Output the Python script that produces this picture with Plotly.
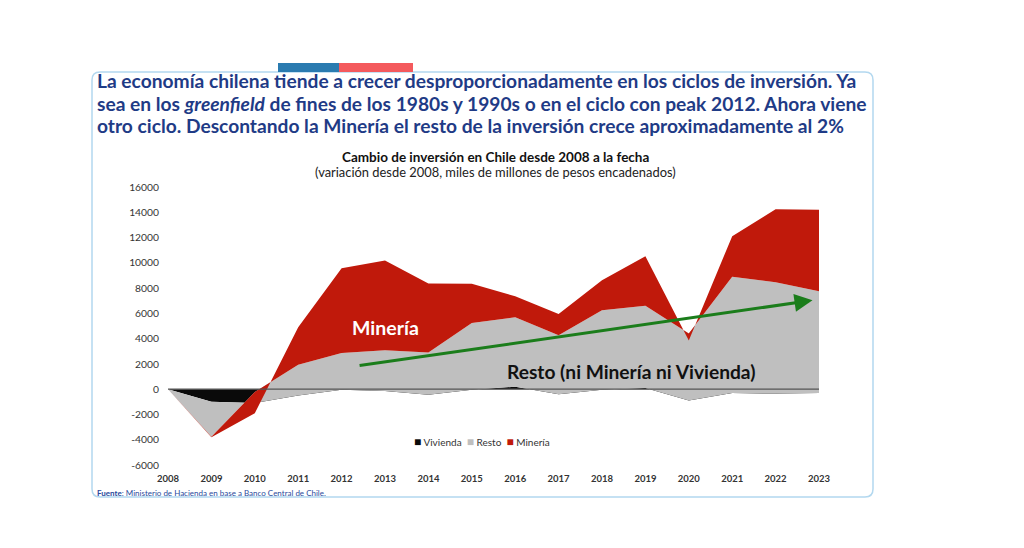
import plotly.graph_objects as go

# ---------------- data ----------------
years = list(range(2008, 2024))
vivienda = [0, -1000, -1100, -500, -50, -150, -450, -50, 200, -400, -50, 100, -900, -300, -350, -300]
resto = [0, -2760, 870, 2430, 2910, 3240, 3350, 5290, 5490, 4660, 6290, 6510, 5300, 9190, 8810, 8050]
mineria = [0, -40, -1670, 2970, 6710, 7090, 5460, 3110, 1660, 1690, 2380, 3910, -540, 3220, 5770, 6450]
series_names = ["Vivienda", "Resto", "Minería"]
y_ticks = [-6000, -4000, -2000, 0, 2000, 4000, 6000, 8000, 10000, 12000, 14000, 16000]
trend_start = (2012.38, 1850)
trend_end = (2022.85, 7030)

colors = {"Vivienda": "#0a0a0a", "Resto": "#bfbfbf", "Minería": "#c0190b"}

W, H = 1024, 548
L, R, T, B = 168, 819, 187, 465  # plot area in pixels


def px(xp):
    return (xp - L) / (R - L)


def py(yp):
    return (B - yp) / (B - T)


fig = go.Figure()
for name, vals in zip(series_names, [vivienda, resto, mineria]):
    fig.add_trace(go.Scatter(
        x=years, y=vals, name=name, mode="lines", stackgroup="one",
        line=dict(width=0, color=colors[name]), fillcolor=colors[name],
        showlegend=False, hoverinfo="x+y+name"))

annotations = []
# heading box text
title_lines = [
    "La economía chilena tiende a crecer desproporcionadamente en los ciclos de inversión. Ya",
    "sea en los <i>greenfield</i> de fines de los 1980s y 1990s o en el ciclo con peak 2012. Ahora viene",
    "otro ciclo. Descontando la Minería el resto de la inversión crece aproximadamente al 2%",
]
for i, line in enumerate(title_lines):
    annotations.append(dict(
        text=line, xref="paper", yref="paper", x=px(95), y=py(81 + 22 * i),
        xanchor="left", yanchor="middle", showarrow=False, align="left",
        font=dict(family="Lato", size=19.2, color="#1f3b86", weight="bold")))
annotations.append(dict(
    text="<b>Cambio de inversión en Chile desde 2008 a la fecha</b>",
    xref="paper", yref="paper", x=px(495), y=py(157), xanchor="center", yanchor="middle",
    showarrow=False, font=dict(family="Lato", size=13.5, color="#111")))
annotations.append(dict(
    text="(variación desde 2008, miles de millones de pesos encadenados)",
    xref="paper", yref="paper", x=px(495), y=py(172), xanchor="center", yanchor="middle",
    showarrow=False, font=dict(family="Lato", size=12.9, color="#222")))
annotations.append(dict(
    text="<b>Fuente</b>: Ministerio de Hacienda en base a Banco Central de Chile.",
    xref="paper", yref="paper", x=px(95), y=py(493), xanchor="left", yanchor="middle",
    showarrow=False, font=dict(family="Lato", size=8, color="#2a4a9c")))
# legend (compact, Excel-like)
legend_text = "  ".join(
    f'<span style="color:{colors[n]};font-size:12px">■</span> {n}' for n in series_names)
annotations.append(dict(
    text=legend_text, xref="paper", yref="paper", x=px(482), y=py(441),
    xanchor="center", yanchor="middle", showarrow=False,
    font=dict(family="Lato", size=10, color="#333")))
# in-chart labels
annotations.append(dict(
    text="<b>Minería</b>", x=2013.0, y=4870, xref="x", yref="y", showarrow=False,
    font=dict(family="Lato", size=19.5, color="white")))
annotations.append(dict(
    text="<b>Resto (ni Minería ni Vivienda)</b>", x=2018.68, y=1400, xref="x", yref="y",
    showarrow=False, font=dict(family="Lato", size=19.2, color="#111")))
# trend arrow
annotations.append(dict(
    x=trend_end[0], y=trend_end[1], ax=trend_start[0], ay=trend_start[1],
    xref="x", yref="y", axref="x", ayref="y", text="", showarrow=True,
    arrowhead=2, arrowsize=1.2, arrowwidth=3, arrowcolor="#1b7d1b", standoff=0))

shapes = []
# zero axis line on top of areas
shapes.append(dict(type="line", xref="x", yref="y", x0=years[0], x1=years[-1], y0=0, y1=0,
                   line=dict(color="#555555", width=1.2), layer="above"))


# rounded box
def rounded_rect(x0, y0, x1, y1, r):
    X = lambda v: px(v)
    Y = lambda v: py(v)
    return (f"M {X(x0 + r)},{Y(y0)} L {X(x1 - r)},{Y(y0)} Q {X(x1)},{Y(y0)} {X(x1)},{Y(y0 + r)} "
            f"L {X(x1)},{Y(y1 - r)} Q {X(x1)},{Y(y1)} {X(x1 - r)},{Y(y1)} "
            f"L {X(x0 + r)},{Y(y1)} Q {X(x0)},{Y(y1)} {X(x0)},{Y(y1 - r)} "
            f"L {X(x0)},{Y(y0 + r)} Q {X(x0)},{Y(y0)} {X(x0 + r)},{Y(y0)} Z")


shapes.append(dict(type="path", xref="paper", yref="paper", path=rounded_rect(92, 72, 873, 497, 8),
                   line=dict(color="#b3d8ef", width=1.5), fillcolor="rgba(0,0,0,0)", layer="below"))
shapes.append(dict(type="rect", xref="paper", yref="paper", x0=px(278), x1=px(339), y0=py(72), y1=py(63),
                   line=dict(width=0), fillcolor="#2a7bb0"))
shapes.append(dict(type="rect", xref="paper", yref="paper", x0=px(339), x1=px(413), y0=py(72), y1=py(63),
                   line=dict(width=0), fillcolor="#f45a5d"))

fig.update_layout(
    width=W, height=H, margin=dict(l=L, r=W - R, t=T, b=H - B, pad=0),
    paper_bgcolor="white", plot_bgcolor="white", showlegend=False,
    font=dict(family="Lato", size=9, color="#333"),
    annotations=annotations, shapes=shapes,
    xaxis=dict(range=[years[0], years[-1]], tickmode="array", tickvals=years,
               ticktext=[str(y) for y in years], showgrid=False, zeroline=False,
               showline=False, ticks="", ticklabelstandoff=6,
               tickfont=dict(family="Lato", size=9.5, color="#333", weight="bold")),
    yaxis=dict(range=[-6000, 16000], tickmode="array", tickvals=y_ticks,
               ticktext=[str(v) for v in y_ticks], showgrid=False, zeroline=False,
               showline=False, ticks="", ticklabelstandoff=8,
               tickfont=dict(family="Lato", size=10.3, color="#333")),
)

fig.write_html("out.html")
